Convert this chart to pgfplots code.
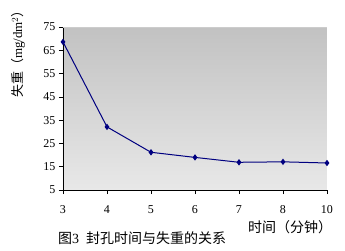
\documentclass[border=0pt]{standalone}
\usepackage{pgfplots}
\pgfplotsset{compat=1.18}
\usepackage{fontspec}
\setmainfont{Liberation Serif}
\newfontfamily\cjk{Noto Sans CJK SC}
\definecolor{navyline}{HTML}{000080}
\begin{document}
\begin{tikzpicture}[x=1pt,y=1pt]
\path[use as bounding box] (-63,-60) rectangle (282,190);
\begin{axis}[
  at={(0,0)}, anchor=origin,
  scale only axis, width=264pt, height=163pt,
  xmin=0, xmax=6, ymin=5, ymax=75,
  xtick={0,...,6}, xticklabels={3,4,5,6,7,8,10},
  ytick={5,15,...,75},
  axis x line=bottom, axis y line=left,
  axis line style={black, line width=0.8pt, -},
  tick style={black, line width=0.6pt},
  tick align=outside, major tick length=4pt,
  xticklabel style={yshift=-8pt, font=\fontsize{12}{13}\selectfont},
  yticklabel style={font=\fontsize{12}{13}\selectfont},
  /pgf/number format/assume math mode=true,
  axis background/.style={top color=black!24, bottom color=black!9},
  clip=false,
]
\draw[black!20, line width=0.8pt] (axis cs:0,75) -- (axis cs:6,75);
\addplot[navyline, line width=1pt, mark=diamond*, mark size=2.4pt, mark options={fill=navyline}]
  coordinates {(0,68.6) (1,32.1) (2,21.2) (3,19.0) (4,16.9) (5,17.1) (6,16.6)};
\end{axis}
\node[rotate=90, font=\fontsize{13}{14}\selectfont] at (-45,139) {{\cjk 失重（}mg/dm$^2${\cjk ）}};
\node[font=\cjk\fontsize{14}{15}\selectfont] at (227,-37) {时间（分钟）};
\node[font=\fontsize{14}{15}\selectfont] at (79,-48) {{\cjk 图}3\ \ {\cjk 封孔时间与失重的关系}};
\end{tikzpicture}
\end{document}
